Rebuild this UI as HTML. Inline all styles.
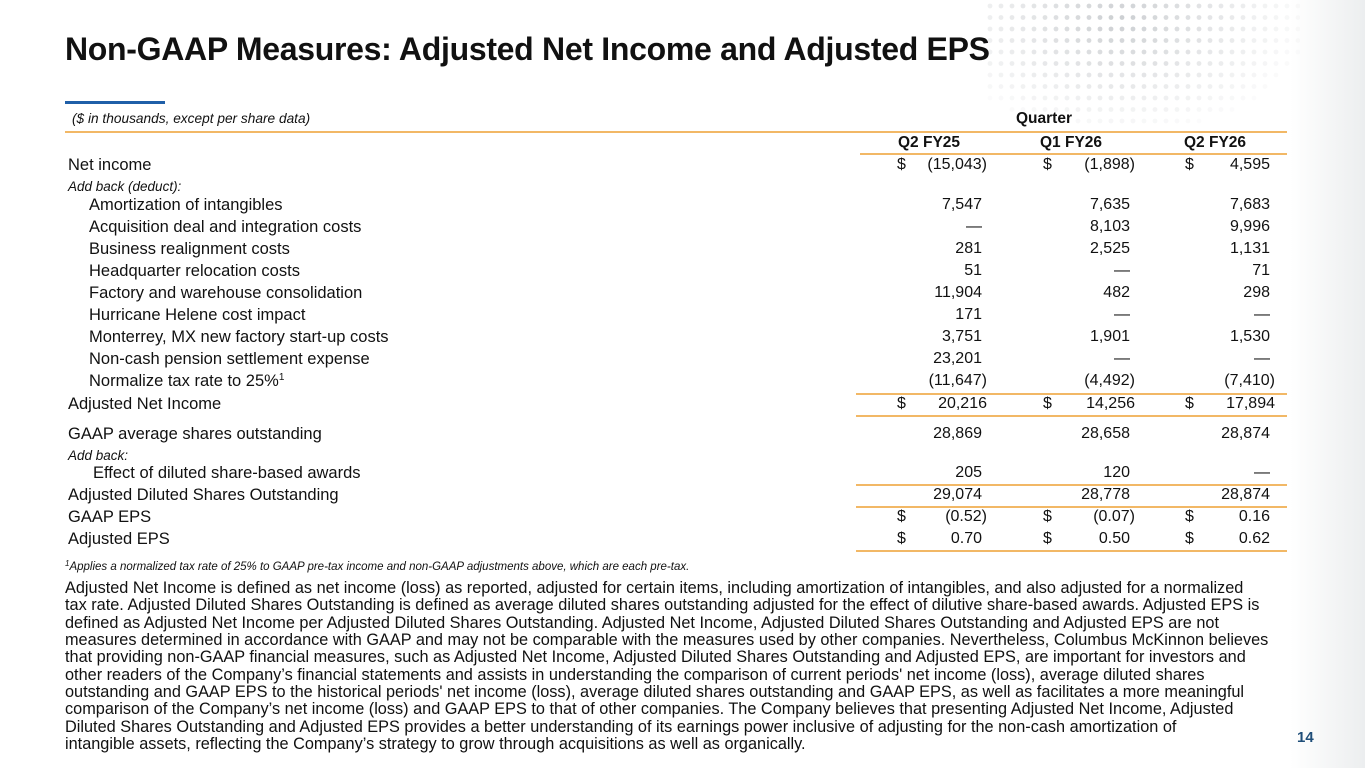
<!DOCTYPE html>
<html><head><meta charset="utf-8"><style>
*{margin:0;padding:0;box-sizing:border-box}
body{width:1365px;height:768px;overflow:hidden;background:#fff;font-family:"Liberation Sans",sans-serif;color:#111;position:relative}
.abs{position:absolute;white-space:nowrap}
.lbl{position:absolute;font-size:16.5px;line-height:18px;white-space:nowrap}
.num{position:absolute;font-size:16px;line-height:18px;text-align:right;white-space:nowrap}
.hang{margin-right:-5px}
.ln{position:absolute;height:2px;background:#f2b866}
.para{position:absolute;left:65px;font-size:16.3px;line-height:17.3px;white-space:nowrap;color:#111}
.sup{position:relative;top:-6px;font-size:10px}
</style></head><body>
<div style="position:absolute;left:1290px;top:0;width:75px;height:768px;background:linear-gradient(90deg,#fff,#eceeef)"></div>
<svg style="position:absolute;left:860px;top:0" width="440" height="130" id="dots"></svg>
<div class="abs" style="left:65px;top:31px;font-size:32px;font-weight:bold;color:#111;letter-spacing:-0.3px">Non-GAAP Measures: Adjusted Net Income and Adjusted EPS</div>
<div style="position:absolute;left:65px;top:101px;width:100px;height:3px;background:#1f5fa8"></div>
<div class="abs" style="left:72px;top:111px;font-size:13.7px;font-style:italic">($ in thousands, except per share data)</div>
<div class="abs" style="left:1016px;top:110px;font-size:15.5px;font-weight:bold">Quarter</div>
<div class="ln" style="left:65px;top:131px;width:1222px"></div>
<div class="abs" style="left:898px;top:134px;font-size:15.5px;font-weight:bold">Q2 FY25</div>
<div class="abs" style="left:1040px;top:134px;font-size:15.5px;font-weight:bold">Q1 FY26</div>
<div class="abs" style="left:1184px;top:134px;font-size:15.5px;font-weight:bold">Q2 FY26</div>
<div class="ln" style="left:860px;top:153px;width:427px"></div>
<div id="rows"></div>
<div class="abs" style="left:65px;top:561px;font-size:11.5px;font-style:italic"><span style="position:relative;top:-4px;font-size:8px">1</span>Applies a normalized tax rate of 25% to GAAP pre-tax income and non-GAAP adjustments above, which are each pre-tax.</div>
<div>
<div class="para" style="top:580px">Adjusted Net Income is defined as net income (loss) as reported, adjusted for certain items, including amortization of intangibles, and also adjusted for a normalized</div>
<div class="para" style="top:597px">tax rate. Adjusted Diluted Shares Outstanding is defined as average diluted shares outstanding adjusted for the effect of dilutive share-based awards. Adjusted EPS is</div>
<div class="para" style="top:615px">defined as Adjusted Net Income per Adjusted Diluted Shares Outstanding. Adjusted Net Income, Adjusted Diluted Shares Outstanding and Adjusted EPS are not</div>
<div class="para" style="top:632px">measures determined in accordance with GAAP and may not be comparable with the measures used by other companies. Nevertheless, Columbus McKinnon believes</div>
<div class="para" style="top:649px">that providing non-GAAP financial measures, such as Adjusted Net Income, Adjusted Diluted Shares Outstanding and Adjusted EPS, are important for investors and</div>
<div class="para" style="top:667px">other readers of the Company’s financial statements and assists in understanding the comparison of current periods' net income (loss), average diluted shares</div>
<div class="para" style="top:684px">outstanding and GAAP EPS to the historical periods' net income (loss), average diluted shares outstanding and GAAP EPS, as well as facilitates a more meaningful</div>
<div class="para" style="top:701px">comparison of the Company’s net income (loss) and GAAP EPS to that of other companies.  The Company believes that presenting Adjusted Net Income, Adjusted</div>
<div class="para" style="top:719px">Diluted Shares Outstanding and Adjusted EPS provides a better understanding of its earnings power inclusive of adjusting for the non-cash amortization of</div>
<div class="para" style="top:736px">intangible assets, reflecting the Company’s strategy to grow through acquisitions as well as organically.</div>
</div>
<div class="abs" style="left:1297px;top:729px;font-size:15px;font-weight:bold;color:#1f4e79">14</div>
<script>
const labels=["Net income","Add back (deduct):","Amortization of intangibles","Acquisition deal and integration costs","Business realignment costs","Headquarter relocation costs","Factory and warehouse consolidation","Hurricane Helene cost impact","Monterrey, MX new factory start-up costs","Non-cash pension settlement expense","Normalize tax rate to 25%","Adjusted Net Income","GAAP average shares outstanding","Add back:","Effect of diluted share-based awards","Adjusted Diluted Shares Outstanding","GAAP EPS","Adjusted EPS"];
const colQ2FY25=["(15,043)","","7,547","—","281","51","11,904","171","3,751","23,201","(11,647)","20,216","28,869","","205","29,074","(0.52)","0.70"];
const colQ1FY26=["(1,898)","","7,635","8,103","2,525","—","482","—","1,901","—","(4,492)","14,256","28,658","","120","28,778","(0.07)","0.50"];
const colQ2FY26=["4,595","","7,683","9,996","1,131","71","298","—","1,530","—","(7,410)","17,894","28,874","","—","28,874","0.16","0.62"];
const dollarRows=[0,11,16,17];
const indentRows=[2,3,4,5,6,7,8,9,10];
const tops=[156,177,196,218,240,262,284,306,328,350,372,395,425,446,464,486,508,530];
const cols=[[colQ2FY25,897,982],[colQ1FY26,1043,1130],[colQ2FY26,1185,1270]];
const root=document.getElementById('rows');
labels.forEach((t,i)=>{
  const d=document.createElement('div');
  
  
  d.className='lbl';
  const small=(i===1||i===13);
  d.style.top=(tops[i]+(small?1:0))+'px';
  d.style.left=(indentRows.includes(i)?89:(i===14?93:68))+'px';
  if(small){d.style.fontSize='13.5px';d.style.fontStyle='italic';}
  d.innerHTML=t+(i===10?'<span class="sup">1</span>':'');
  root.appendChild(d);
  cols.forEach(([arr,dx,rx])=>{
    const v=arr[i]; if(!v) return;
    if(dollarRows.includes(i)){
      const s=document.createElement('div');
      
      
      s.className='num';s.style.left=dx+'px';s.style.top=tops[i]+'px';s.textContent='$';root.appendChild(s);
    }
    const n=document.createElement('div');
    
    
    n.className='num';n.style.top=tops[i]+'px';n.style.right=(1365-rx)+'px';
    if(v.endsWith(')')) n.innerHTML=v.slice(0,-1)+'<span class="hang">)</span>';
    else if(i===11) {n.style.right=(1365-rx-5)+'px';n.textContent=v;}
    else n.textContent=v;
    root.appendChild(n);
  });
});
[[856,393],[856,415],[856,484],[856,506],[856,550]].forEach(([x,y])=>{
  const l=document.createElement('div');
  
  
  l.className='ln';l.style.left=x+'px';l.style.top=y+'px';l.style.width=(1287-x)+'px';l.style.height=(y===393?'2px':'1.5px');
  root.appendChild(l);
});
const svg=document.getElementById('dots');let h='';
for(let r=0;r<11;r++){for(let c=0;c<38;c++){
  const x=130+c*11, y=6+r*11.5;
  const dx=(x-260)/180, dy=(y-20)/110;
  const a=Math.max(0,0.5-Math.sqrt(dx*dx+dy*dy)*0.45);
  if(a>0.03) h+=`<circle cx="${x}" cy="${y}" r="2.4" fill="#9aa0a6" opacity="${a.toFixed(2)}"/>`;
}}
svg.innerHTML=h;
</script>
</body></html>
